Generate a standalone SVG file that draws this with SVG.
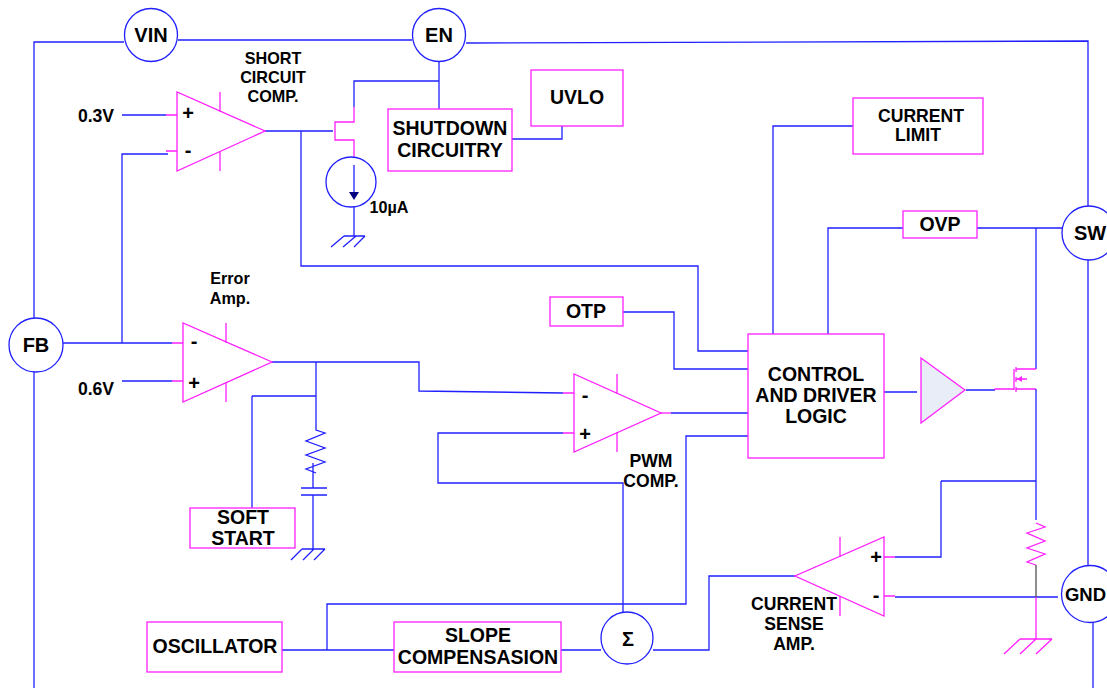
<svg xmlns="http://www.w3.org/2000/svg" width="1107" height="688" viewBox="0 0 1107 688">
<style>
text{font-family:"Liberation Sans",Arial,sans-serif;font-weight:700;fill:#000;text-anchor:middle}
.b{fill:none;stroke:#2020ff;stroke-width:1.3}
.m{fill:none;stroke:#ff20ff;stroke-width:1.3}
.box{fill:#fff;stroke:#ff20ff;stroke-width:1.3}
.pin{fill:#fff;stroke:#2020ff;stroke-width:1.3}
.t20{font-size:20px}.t19{font-size:19.5px}.t18{font-size:17.6px}.t16{font-size:16.2px}
</style>
<rect width="1107" height="688" fill="#fff"/>
<g id="connectors">
<path class="b" d="M124 42H34V318M34 372V688M178 40H412M466 43L1088 41V206M1088 260V566M1093 622V688"/>
<path class="b" d="M439 62V109M439 81H354V107"/>
<path class="m" d="M354 107V122H335V140H354V157"/>
<path class="b" d="M265 131H333M301 131V266H698V351H748"/>
<path class="b" d="M512 139H562V126"/>
<path class="b" d="M354 207V236M344 236H365M344 236L331 247M356 236L343 247M365 236L354 247"/>
<path class="b" d="M122 115H166M122 343V154H168M63 343H172M122 381H172"/>
<path class="m" d="M166 115H177M166 151H177M172 343H183M172 381H183"/>
<path class="b" d="M272 362H419V391L563 393M316 362V430L325 433L306 441L325 448L306 455L325 462L306 469L316 473M313 463V488M313 495V549M252 396H316M252 396V508"/>
<path class="b" d="M301 488H327M301 495H327M302 549H325M302 549L291 560M314 549L303 560M325 549L314 560"/>
<path class="m" d="M563 393H574M563 433H574"/>
<path class="b" d="M563 433H438V483H623V612"/>
<path class="m" d="M661 413H671"/>
<path class="b" d="M671 413H748M748 436H686V604H327V650M623 312H674V369H748"/>
<path class="b" d="M282 650H394M561 650H601M653 650H709V576H795"/>
<path class="b" d="M773 334V126H853M828 334V228H903M977 228H1062M1036 228V369"/>
<path class="b" d="M884 392H917M966 390H995"/>
<path class="m" d="M995 390V389H1014M1014 369V390M1016 367V372M1016 377V382M1016 387V392M1016 369H1036M1016 389H1036M1016 379H1027"/>
<path d="M1017 379L1022 376V382Z" fill="#ff20ff"/>
<path class="b" d="M1036 389V520M941 481H1036M941 481V557H895"/>
<path class="m" d="M884 557H895M884 596H895"/>
<path class="b" d="M895 597H1058"/>
<path class="m" d="M1036 523L1045 527L1027 533L1045 541L1027 548L1045 554L1027 562L1036 565"/>
<path d="M1036 565V597" fill="none" stroke="#444" stroke-width="1.2"/>
<path class="m" d="M1036 597V639M1020 639H1052M1020 639L1004 654M1036 639L1020 654M1052 639L1036 654"/>
</g>
<g id="pin-vin"><circle class="pin" cx="151" cy="35" r="26.5"/><text class="t20" x="151" y="42">VIN</text></g>
<g id="pin-en"><circle class="pin" cx="439" cy="35" r="26.5"/><text class="t20" x="439" y="42">EN</text></g>
<g id="pin-fb"><circle class="pin" cx="36" cy="345" r="27"/><text class="t20" x="36" y="352">FB</text></g>
<g id="pin-sw"><circle class="pin" cx="1089" cy="233" r="27"/><text class="t20" x="1090" y="240">SW</text></g>
<g id="pin-gnd"><circle class="pin" cx="1090" cy="594" r="28.5"/><text x="1085.5" y="601" style="font-size:18.5px">GND</text></g>
<g id="short-comp"><path class="m" d="M177 92V171L265 131Z"/><path class="m" d="M220 92V112M220 151V171"/><text class="t20" x="188" y="120">+</text><text class="t20" x="188" y="157">-</text></g>
<g id="error-amp"><path class="m" d="M183 323V402L272 362Z"/><path class="m" d="M226 323V343M226 382V402"/><text class="t20" x="194" y="348">-</text><text class="t20" x="194" y="390">+</text></g>
<g id="pwm-comp"><path class="m" d="M574 374V452L661 413Z"/><path class="m" d="M617 374V394M617 432V452"/><text class="t20" x="585" y="402">-</text><text class="t20" x="585" y="441">+</text></g>
<g id="current-amp"><path class="m" d="M884 537V616L795 576Z"/><path class="m" d="M840 537V557M840 596V616"/><text class="t20" x="876" y="564">+</text><text class="t20" x="876" y="602">-</text></g>
<g id="driver"><path d="M921 358V423L965 390Z" fill="#e8edf7" stroke="#ff20ff" stroke-width="1.3"/></g>
<g id="current-source"><circle class="b" cx="351" cy="182" r="25"/><path class="b" d="M354 165V194"/><path d="M349 192H359L354 200Z" fill="#000080"/></g>
<g id="uvlo"><rect class="box" x="531" y="70" width="92" height="56"/><text class="t19" x="577" y="104">UVLO</text></g>
<g id="shutdown"><rect class="box" x="388" y="109" width="124" height="62"/><text class="t19" x="450" y="135">SHUTDOWN</text><text class="t19" x="450" y="157">CIRCUITRY</text></g>
<g id="current-limit"><rect class="box" x="853" y="98" width="130" height="56"/><text class="t18" x="921" y="122">CURRENT</text><text class="t18" x="918" y="141">LIMIT</text></g>
<g id="ovp"><rect class="box" x="903" y="211" width="74" height="27"/><text class="t19" x="940" y="231">OVP</text></g>
<g id="otp"><rect class="box" x="550" y="297" width="73" height="29"/><text class="t19" x="586" y="318">OTP</text></g>
<g id="control"><rect class="box" x="748" y="334" width="136" height="124"/><text class="t19" x="816" y="381">CONTROL</text><text class="t19" x="816" y="402">AND DRIVER</text><text class="t19" x="816" y="423">LOGIC</text></g>
<g id="soft-start"><rect class="box" x="190" y="508" width="105" height="40"/><text class="t19" x="243" y="524">SOFT</text><text class="t19" x="243" y="545">START</text></g>
<g id="oscillator"><rect class="box" x="147" y="622" width="135" height="50"/><text class="t19" x="215" y="653">OSCILLATOR</text></g>
<g id="slope"><rect class="box" x="394" y="622" width="167" height="50"/><text class="t19" x="478" y="642">SLOPE</text><text class="t19" x="478" y="664">COMPENSASION</text></g>
<g id="sum"><circle class="pin" cx="627" cy="638" r="26"/><text class="t20" x="628" y="646">Σ</text></g>
<g id="labels">
<text class="t16" x="273" y="64">SHORT</text><text class="t16" x="273" y="83">CIRCUIT</text><text class="t16" x="273" y="102">COMP.</text>
<text class="t16" x="230" y="284">Error</text><text class="t16" x="230" y="304">Amp.</text>
<text class="t18" x="96" y="122">0.3V</text><text class="t18" x="96" y="395">0.6V</text>
<text class="t16" x="389" y="213">10µA</text>
<text class="t18" x="651" y="467">PWM</text><text class="t18" x="651" y="487">COMP.</text>
<text class="t18" x="794" y="610">CURRENT</text><text class="t18" x="794" y="630">SENSE</text><text class="t18" x="794" y="650">AMP.</text>
</g>
</svg>
